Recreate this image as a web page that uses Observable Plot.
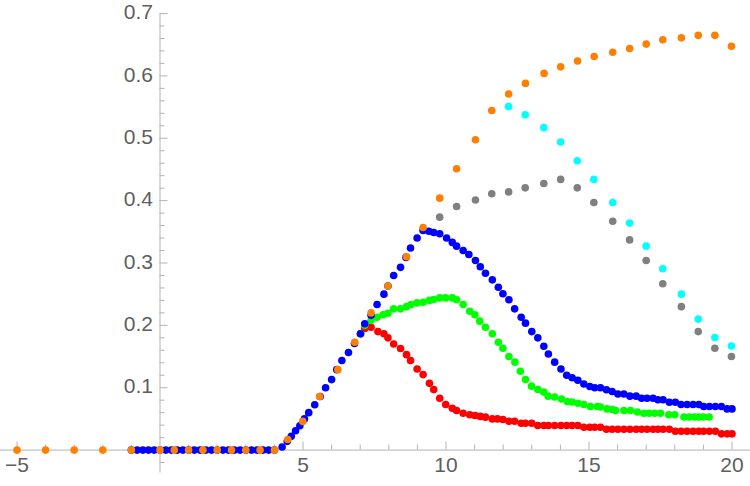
<!DOCTYPE html>
<html>
<head>
<meta charset="utf-8">
<script src="https://cdn.jsdelivr.net/npm/d3@7"></script>
<script src="https://cdn.jsdelivr.net/npm/@observablehq/plot@0.6"></script>
<style>
  html, body { margin: 0; padding: 0; background: #ffffff; }
  #chart svg { display: block; }
</style>
</head>
<body>
<div id="chart"></div>
<script>
// ---------- data ----------
const orangeX = [-5, -4, -3, -2, -1, 0, 0.5, 1, 1.5, 2, 2.5, 3, 3.5, 4, 4.47, 4.99, 5.58, 6.22, 6.81, 7.38, 7.97, 8.62, 9.20, 9.78, 10.37, 11.03, 11.60, 12.19, 12.78, 13.43, 14.01, 14.60, 15.18, 15.83, 16.42, 17.0, 17.58, 18.23, 18.82, 19.40, 19.98];
const orangeY = [0, 0, 0, 0, 0, 0, 0, 0, 0, 0, 0, 0, 0, 0, 0.017, 0.046, 0.086, 0.129, 0.173, 0.220, 0.263, 0.310, 0.357, 0.404, 0.451, 0.4975, 0.5445, 0.571, 0.588, 0.604, 0.6145, 0.624, 0.631, 0.638, 0.644, 0.651, 0.658, 0.661, 0.665, 0.665, 0.6476];

const grayX = [9.20, 9.78, 10.37, 11.03, 11.60, 12.19, 12.77, 13.42, 14.01, 14.59, 15.17, 15.83, 16.42, 17.0, 17.58, 18.23, 18.82, 19.40, 19.98];
const grayY = [0.354, 0.3735, 0.3906, 0.401, 0.411, 0.414, 0.4205, 0.4275, 0.434, 0.4205, 0.397, 0.367, 0.337, 0.304, 0.2666, 0.230, 0.190, 0.1634, 0.150];

const cyanX = [12.19, 12.77, 13.42, 14.01, 14.59, 15.17, 15.83, 16.42, 17.0, 17.58, 18.23, 18.82, 19.40, 19.98];
const cyanY = [0.551, 0.5375, 0.517, 0.494, 0.464, 0.434, 0.397, 0.364, 0.327, 0.2907, 0.250, 0.210, 0.1805, 0.167];

const blueX = [-1, -0.8, -0.6, -0.4, -0.2, 0, 0.2, 0.4, 0.6, 0.8, 1.0, 1.2, 1.4, 1.6, 1.8, 2.0, 2.2, 2.4, 2.6, 2.8, 3.0, 3.2, 3.4, 3.6, 3.8, 4.0,
  4.27, 4.45, 4.59, 4.74, 4.89, 5.05, 5.20, 5.41, 5.6, 5.79, 6.0, 6.18, 6.36, 6.59, 6.8, 7.01, 7.16, 7.38, 7.59, 7.83, 7.97, 8.17, 8.41, 8.6, 8.76, 8.99,
  9.2, 9.4, 9.57, 9.78, 10.02, 10.22, 10.37, 10.6, 10.8, 11.03, 11.2, 11.38, 11.62, 11.83, 11.99, 12.2, 12.4, 12.63, 12.78, 13.0, 13.21, 13.42, 13.58, 13.8,
  14.02, 14.22, 14.41, 14.61, 14.82, 15.03, 15.2, 15.4, 15.61, 15.81, 16.01, 16.22, 16.43, 16.65, 16.84, 17.03, 17.24, 17.41, 17.59, 17.81, 18.02, 18.22,
  18.43, 18.64, 18.84, 19.01, 19.21, 19.42, 19.63, 19.83, 20.0];
const blueY = [0, 0, 0, 0, 0, 0, 0, 0, 0, 0, 0, 0, 0, 0, 0, 0, 0, 0, 0, 0, 0, 0, 0, 0, 0, 0,
  0.005, 0.014, 0.022, 0.031, 0.039, 0.050, 0.060, 0.0726, 0.086, 0.100, 0.113, 0.129, 0.1437, 0.1565, 0.171, 0.1865, 0.2025, 0.216, 0.2335, 0.250, 0.263, 0.280, 0.293, 0.309, 0.324, 0.340,
  0.352, 0.351, 0.349, 0.347, 0.340, 0.333, 0.327, 0.320, 0.3136, 0.304, 0.294, 0.2836, 0.273, 0.261, 0.2506, 0.241, 0.2265, 0.213, 0.2035, 0.190, 0.180, 0.1666, 0.154, 0.141,
  0.130, 0.120, 0.116, 0.112, 0.106, 0.102, 0.100, 0.100, 0.0967, 0.094, 0.090, 0.090, 0.0865, 0.0865, 0.0832, 0.0832, 0.0832, 0.0806, 0.0806, 0.0768, 0.0768, 0.073,
  0.073, 0.073, 0.073, 0.070, 0.070, 0.070, 0.070, 0.066, 0.066];

const greenX = [7.01, 7.16, 7.38, 7.59, 7.8, 7.97, 8.17, 8.41, 8.62, 8.78, 8.99, 9.2, 9.42, 9.57, 9.78, 9.99, 10.22, 10.37, 10.6, 10.83, 11.01, 11.18, 11.38, 11.62, 11.83, 11.99,
  12.2, 12.41, 12.6, 12.78, 12.99, 13.21, 13.42, 13.57, 13.8, 14.04, 14.24, 14.41, 14.61, 14.82, 15.05, 15.29, 15.4, 15.63, 15.81, 15.93, 16.22, 16.45, 16.69, 16.92,
  17.1, 17.3, 17.5, 17.79, 18.0, 18.32, 18.5, 18.7, 18.84, 19.0, 19.2];
const greenY = [0.1865, 0.2, 0.208, 0.213, 0.217, 0.2195, 0.2265, 0.2265, 0.230, 0.2335, 0.236, 0.237, 0.240, 0.2415, 0.244, 0.244, 0.244, 0.241, 0.2335, 0.2227, 0.217, 0.2067, 0.197, 0.1865, 0.173, 0.1634,
  0.150, 0.141, 0.1265, 0.113, 0.1025, 0.0972, 0.093, 0.0865, 0.085, 0.082, 0.078, 0.077, 0.075, 0.073, 0.070, 0.070, 0.069, 0.066, 0.065, 0.0635, 0.0635, 0.0635, 0.061, 0.059,
  0.059, 0.059, 0.059, 0.0566, 0.0566, 0.053, 0.053, 0.053, 0.053, 0.053, 0.053];

const redX = [7.01, 7.16, 7.38, 7.62, 7.83, 7.97, 8.17, 8.41, 8.62, 8.76, 8.99, 9.2, 9.42, 9.57, 9.78, 9.99, 10.22, 10.37, 10.6, 10.83, 11.01, 11.2, 11.38, 11.62, 11.8, 11.99,
  12.2, 12.4, 12.63, 12.78, 13.0, 13.21, 13.42, 13.58, 13.8, 14.02, 14.22, 14.41, 14.61, 14.82, 15.03, 15.2, 15.4, 15.61, 15.81, 16.01, 16.22, 16.43, 16.65, 16.84,
  17.03, 17.24, 17.41, 17.59, 17.81, 18.02, 18.22, 18.43, 18.64, 18.84, 19.01, 19.21, 19.42, 19.63, 19.83, 20.0];
const redY = [0.1865, 0.195, 0.197, 0.190, 0.1865, 0.180, 0.170, 0.163, 0.153, 0.1437, 0.130, 0.121, 0.107, 0.097, 0.083, 0.073, 0.067, 0.0635, 0.059, 0.0566, 0.0555, 0.054, 0.0528, 0.050, 0.050, 0.049,
  0.0463, 0.0463, 0.043, 0.043, 0.043, 0.0394, 0.0394, 0.0394, 0.0394, 0.0394, 0.0394, 0.0394, 0.0394, 0.0367, 0.0367, 0.0367, 0.0367, 0.0335, 0.0335, 0.0335, 0.0335, 0.0335, 0.0335, 0.0335,
  0.0335, 0.0335, 0.0335, 0.0335, 0.0335, 0.0303, 0.0303, 0.0303, 0.0303, 0.0303, 0.0303, 0.0303, 0.0303, 0.026, 0.026, 0.026];

const xMajorTicks = [-5, 5, 10, 15, 20];
const xMajorLabels = ["\u22125", "5", "10", "15", "20"];
const xMinorTicks = [-4, -3, -2, -1, 1, 2, 3, 4, 6, 7, 8, 9, 11, 12, 13, 14, 16, 17, 18, 19];
const yMajorTicks = [0.1, 0.2, 0.3, 0.4, 0.5, 0.6, 0.7];
const yMajorLabels = ["0.1", "0.2", "0.3", "0.4", "0.5", "0.6", "0.7"];
const yMinorTicks = [-0.02, 0.02, 0.04, 0.06, 0.08, 0.12, 0.14, 0.16, 0.18, 0.22, 0.24, 0.26, 0.28, 0.32, 0.34, 0.36, 0.38, 0.42, 0.44, 0.46, 0.48, 0.52, 0.54, 0.56, 0.58, 0.62, 0.64, 0.66, 0.68];

// ---------- layout ----------
const W = 750, H = 486;
const xDomain = [-5.577, 20.647];
const yDomain = [-0.0584, 0.7209];
const pxPerX = W / (xDomain[1] - xDomain[0]);
const pxPerY = H / (yDomain[1] - yDomain[0]);
const axisColor = "#b3b3b3";
const labelColor = "#5e5e5e";

const toPts = (xs, ys) => xs.map((x, i) => ({x, y: ys[i]}));
const series = [
  {pts: toPts(redX, redY), color: "#ff0000"},
  {pts: toPts(greenX, greenY), color: "#00ff00"},
  {pts: toPts(grayX, grayY), color: "#808080"},
  {pts: toPts(cyanX, cyanY), color: "#00ffff"},
  {pts: toPts(blueX, blueY), color: "#0000ff"},
  {pts: toPts(orangeX, orangeY), color: "#ff8000"}
];

const majLen = 8, minLen = 5;

const chart = Plot.plot({
  width: W,
  height: H,
  margin: 0,
  x: {domain: xDomain, axis: null},
  y: {domain: yDomain, axis: null},
  style: {fontFamily: "'Liberation Sans', Arial, sans-serif", background: "#ffffff", overflow: "visible"},
  marks: [
    // axes lines
    Plot.ruleY([0], {stroke: axisColor, strokeWidth: 1}),
    Plot.ruleX([0], {y1: -0.037, y2: 0.7, stroke: axisColor, strokeWidth: 1}),
    // x ticks (upwards)
    Plot.ruleX(xMajorTicks, {x: d => d, y1: 0, y2: majLen / pxPerY, stroke: axisColor}),
    Plot.ruleX(xMinorTicks, {x: d => d, y1: 0, y2: minLen / pxPerY, stroke: axisColor}),
    // y ticks (to the right)
    Plot.ruleY(yMajorTicks, {y: d => d, x1: 0, x2: majLen / pxPerX, stroke: axisColor}),
    Plot.ruleY(yMinorTicks, {y: d => d, x1: 0, x2: minLen / pxPerX, stroke: axisColor}),
    // labels
    Plot.text(xMajorTicks, {x: d => d, y: 0, text: (d, i) => xMajorLabels[i], dy: 15, fontSize: 21, fill: labelColor, textAnchor: "middle"}),
    Plot.text(yMajorTicks, {x: 0, y: d => d, text: (d, i) => yMajorLabels[i], dx: -7, dy: -1, fontSize: 21, fill: labelColor, textAnchor: "end"}),
    // data
    ...series.map(s => Plot.dot(s.pts, {x: "x", y: "y", r: 3.8, fill: s.color}))
  ]
});

document.getElementById("chart").appendChild(chart);
</script>
</body>
</html>
